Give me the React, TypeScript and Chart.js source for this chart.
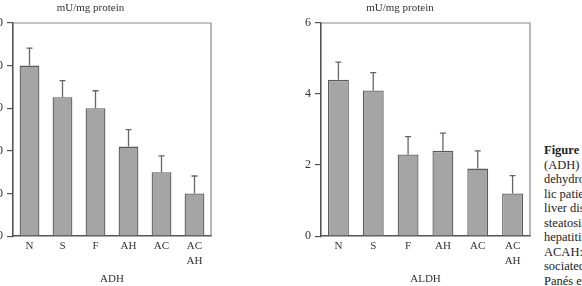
import React, { useEffect, useRef } from "react";
import { Chart, registerables } from "chart.js";

Chart.register(...registerables);

const categories: (string | string[])[] = ["N", "S", "F", "AH", "AC", ["AC", "AH"]];
const adhValues = [40, 32.6, 30, 21, 15, 10];
const adhErrors = [4.1, 3.9, 4.1, 4.0, 3.8, 4.1];
const adhTicks = [0, 10, 20, 30, 40, 50];
const aldhValues = [4.4, 4.1, 2.3, 2.4, 1.9, 1.2];
const aldhErrors = [0.5, 0.5, 0.5, 0.5, 0.5, 0.5];
const aldhTicks = [0, 2, 4, 6];
const unitTitle = "mU/mg protein";
const captionLines = [
  "Figure 1 Hepatic alcohol",
  "(ADH) and aldehyde",
  "dehydrogenase in alcoho-",
  "lic patients with different",
  "liver diseases. N: normal; S:",
  "steatosis; F: fibrosis; AH:",
  "hepatitis; AC: cirrhosis;",
  "ACAH: cirrhosis with as-",
  "sociated hepatitis. From",
  "Panés et al.",
];

const FONT = "'Liberation Serif', 'Times New Roman', serif";

const errorBarPlugin = {
  id: "errorBars",
  afterDatasetsDraw(chart: any) {
    const ctx = chart.ctx;
    const yScale = chart.scales.y;
    chart.data.datasets.forEach((ds: any, di: number) => {
      const meta = chart.getDatasetMeta(di);
      const errs: number[] = ds.errors || [];
      meta.data.forEach((el: any, i: number) => {
        const v = ds.data[i];
        const yTop = yScale.getPixelForValue(v + errs[i]);
        ctx.save();
        ctx.strokeStyle = "#666";
        ctx.lineWidth = 1.3;
        ctx.beginPath();
        ctx.moveTo(el.x, el.y);
        ctx.lineTo(el.x, yTop);
        ctx.moveTo(el.x - 3, yTop);
        ctx.lineTo(el.x + 3, yTop);
        ctx.stroke();
        ctx.restore();
      });
    });
  },
};

const framePlugin = {
  id: "frame",
  afterDraw(chart: any) {
    const { ctx, chartArea } = chart;
    ctx.save();
    ctx.strokeStyle = "#8a8a8a";
    ctx.lineWidth = 1.2;
    ctx.beginPath();
    ctx.moveTo(chartArea.left, chartArea.top);
    ctx.lineTo(chartArea.right, chartArea.top);
    ctx.lineTo(chartArea.right, chartArea.bottom);
    ctx.stroke();
    ctx.restore();
  },
};

function makeConfig(
  values: number[],
  errors: number[],
  ticks: number[],
  xTitle: string,
  yWidth: number,
  rightPad: number
): any {
  const step = ticks[1] - ticks[0];
  return {
    type: "bar",
    data: {
      labels: categories,
      datasets: [
        {
          data: values,
          errors: errors,
          backgroundColor: "#a5a5a5",
          borderColor: "#5a5a5a",
          borderWidth: 1.3,
          barPercentage: 0.6,
          categoryPercentage: 1,
        },
      ],
    },
    options: {
      responsive: false,
      animation: false,
      layout: { padding: { left: 0, right: rightPad, top: 0, bottom: 0 } },
      plugins: {
        legend: { display: false },
        tooltip: { enabled: false },
        title: {
          display: true,
          text: unitTitle,
          color: "#333",
          font: { family: FONT, size: 11, weight: "normal" },
          padding: { top: 1.5, bottom: 8.3 },
        },
      },
      scales: {
        x: {
          grid: { display: false, drawTicks: false },
          border: { display: true, color: "#555", width: 1.6 },
          ticks: {
            color: "#333",
            font: { family: FONT, size: 11, lineHeight: 1.35 },
            padding: 3,
            maxRotation: 0,
            autoSkip: false,
          },
          title: {
            display: true,
            text: xTitle,
            color: "#333",
            font: { family: FONT, size: 11 },
            padding: { top: 1, bottom: 0 },
          },
        },
        y: {
          min: ticks[0],
          max: ticks[ticks.length - 1],
          grid: {
            display: true,
            drawOnChartArea: false,
            drawTicks: true,
            tickLength: 6,
            color: "#555",
            lineWidth: 1.2,
          },
          border: { display: true, color: "#555", width: 1.6 },
          ticks: {
            stepSize: step,
            color: "#333",
            font: { family: FONT, size: 12 },
            padding: 4,
          },
          afterFit(scale: any) {
            scale.width = yWidth;
          },
        },
      },
    },
    plugins: [errorBarPlugin, framePlugin],
  };
}

function BarChart(props: {
  values: number[];
  errors: number[];
  ticks: number[];
  xTitle: string;
  left: number;
  width: number;
  yWidth: number;
  rightPad: number;
}) {
  const ref = useRef<HTMLCanvasElement>(null);
  useEffect(() => {
    if (!ref.current) return;
    const chart = new Chart(
      ref.current,
      makeConfig(props.values, props.errors, props.ticks, props.xTitle, props.yWidth, props.rightPad)
    );
    return () => chart.destroy();
  }, []);
  return (
    <canvas
      ref={ref}
      width={props.width}
      height={286}
      style={{ position: "absolute", left: props.left, top: 0, width: props.width, height: 286 }}
    />
  );
}

export default function App() {
  return (
    <div
      style={{
        position: "fixed",
        left: 0,
        top: 0,
        width: 582,
        height: 286,
        overflow: "hidden",
        background: "#fff",
      }}
    >
      <BarChart
        values={adhValues}
        errors={adhErrors}
        ticks={adhTicks}
        xTitle="ADH"
        left={-30}
        width={250}
        yWidth={43}
        rightPad={9}
      />
      <BarChart
        values={aldhValues}
        errors={aldhErrors}
        ticks={aldhTicks}
        xTitle="ALDH"
        left={270}
        width={265}
        yWidth={51}
        rightPad={5}
      />
      <div
        style={{
          position: "absolute",
          left: 544,
          top: 143,
          fontFamily: FONT,
          fontSize: 12.5,
          lineHeight: "14.5px",
          color: "#222",
          whiteSpace: "nowrap",
        }}
      >
        {captionLines.map((line, i) =>
          i === 0 ? (
            <div key={i}>
              <b>{line.split(" ")[0]}</b>
              {" " + line.split(" ").slice(1).join(" ")}
            </div>
          ) : (
            <div key={i}>{line}</div>
          )
        )}
      </div>
    </div>
  );
}
